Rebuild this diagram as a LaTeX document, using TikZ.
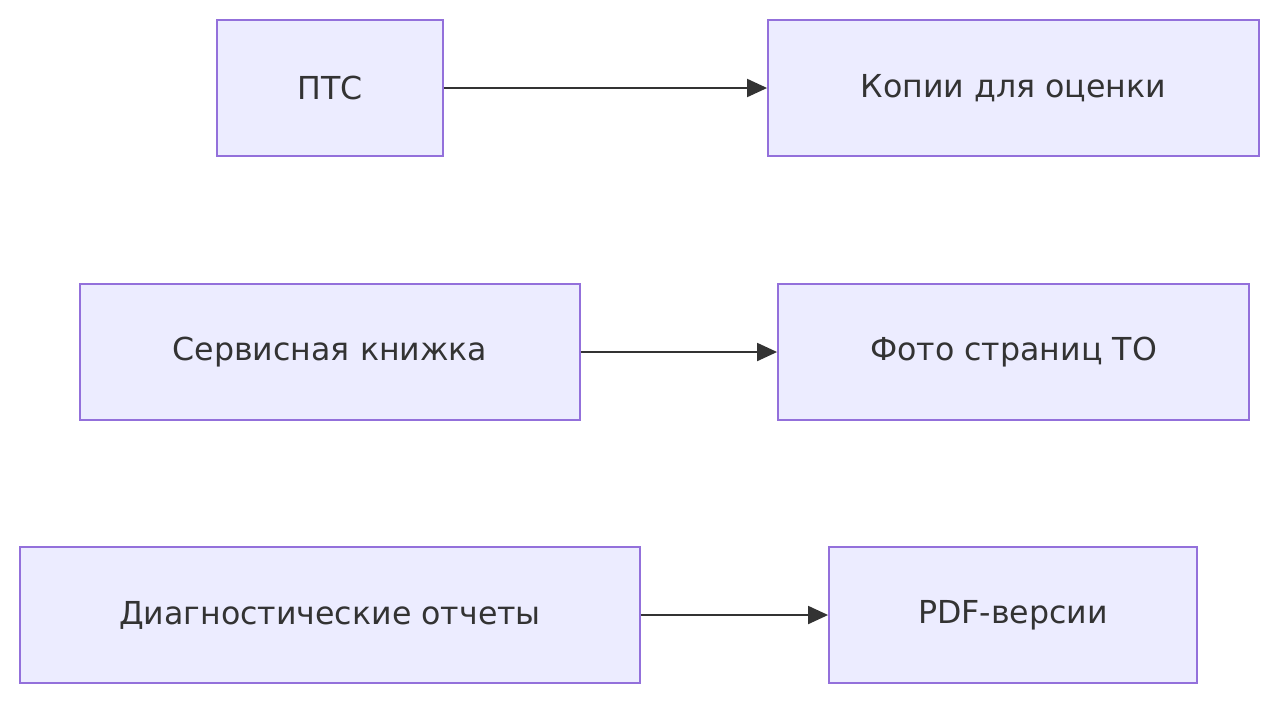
\documentclass[tikz,border=0pt]{standalone}
\usepackage{fontspec}
\setmainfont{DejaVu Sans}
\usetikzlibrary{arrows.meta}
\definecolor{boxfill}{HTML}{ECECFF}
\definecolor{boxline}{HTML}{9370DB}
\definecolor{arrowc}{HTML}{333333}
\tikzset{
	box/.style={draw=boxline, fill=boxfill, line width=1.1pt, minimum height=2.72cm, inner sep=0pt, text=arrowc, font=\fontsize{18}{22}\selectfont},
	link/.style={draw=arrowc, line width=1.1pt, -{Triangle[length=0.4cm,width=0.36cm]}}
}
\begin{document}
\begin{tikzpicture}[x=0.02cm,y=-0.02cm]
	\useasboundingbox (0,0) rectangle (1280,704);
	\node[box, minimum width=4.52cm] (pts) at (330,88) {ПТС};
	\node[box, minimum width=9.82cm] (copies) at (1013.5,88) {Копии для оценки};
	\node[box, minimum width=10cm] (book) at (330,352) {Сервисная книжка};
	\node[box, minimum width=9.42cm] (photo) at (1013.5,352) {Фото страниц ТО};
	\node[box, minimum width=12.4cm] (diag) at (330,615) {Диагностические отчеты};
	\node[box, minimum width=7.36cm] (pdf) at (1013,615) {PDF-версии};
	\draw[link] (pts) -- (copies);
	\draw[link] (book) -- (photo);
	\draw[link] (diag) -- (pdf);
\end{tikzpicture}
\end{document}
